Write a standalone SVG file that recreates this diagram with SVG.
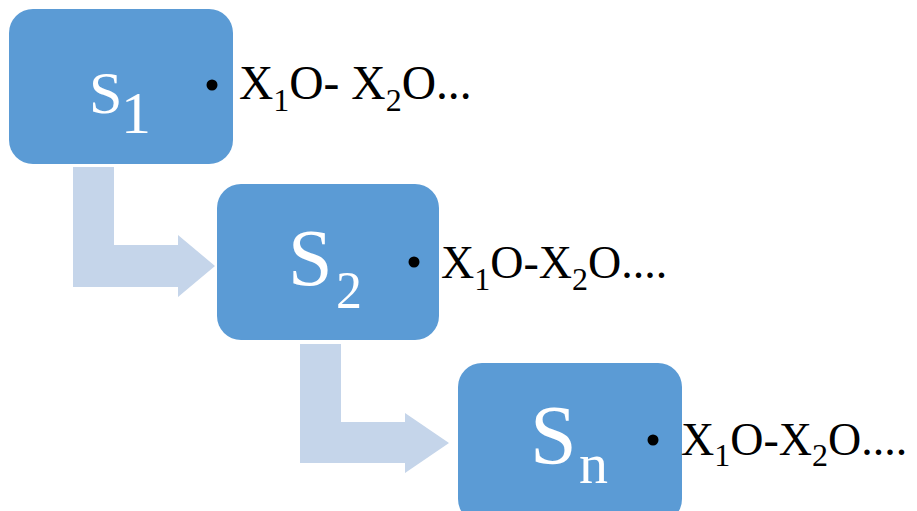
<svg xmlns="http://www.w3.org/2000/svg" width="917" height="511" viewBox="0 0 917 511">
<style>
.box{fill:#5B9BD5}
.arr{fill:#C5D5EA}
.lbl{font-family:'Liberation Serif',Tinos,'Times New Roman',Times,serif;fill:#FFFFFF}
.txt{font-family:'Liberation Serif',Tinos,'Times New Roman',Times,serif;fill:#000000}
.sub{font-size:32px}
.dot{fill:#000000}
</style>
<rect width="917" height="511" fill="#FFFFFF"/>
<g id="connectors">
<polygon class="arr" points="73,167 114,167 114,245 178,245 178,235 215,266 178,297 178,287 73,287"/>
<polygon class="arr" points="300,344 341,344 341,422 405,422 405,413 449,443 405,473 405,463 300,463"/>
</g>
<g id="node-s1">
<rect class="box" x="9" y="9" width="224" height="155" rx="24" ry="24"/>
<text class="lbl" x="89" y="113" font-size="60">S</text>
<text class="lbl" x="121" y="133" font-size="60">1</text>
<circle class="dot" cx="212" cy="85" r="5.5"/>
<text class="txt" font-size="47.5" x="239" y="99">X<tspan class="sub" dy="12">1</tspan><tspan dy="-12">O- X</tspan><tspan class="sub" dy="12">2</tspan><tspan dy="-12">O...</tspan></text>
</g>
<g id="node-s2">
<rect class="box" x="217" y="184" width="222" height="156" rx="24" ry="24"/>
<text class="lbl" x="288" y="285" font-size="80">S</text>
<text class="lbl" x="336" y="308" font-size="52">2</text>
<circle class="dot" cx="414" cy="262" r="5.5"/>
<text class="txt" font-size="46" x="441" y="278">X<tspan class="sub" dy="12">1</tspan><tspan dy="-12">O-X</tspan><tspan class="sub" dy="12">2</tspan><tspan dy="-12">O....</tspan></text>
</g>
<g id="node-sn">
<rect class="box" x="458" y="363" width="224" height="160" rx="24" ry="24"/>
<text class="lbl" x="530" y="464" font-size="84">S</text>
<text class="lbl" x="579" y="483" font-size="58">n</text>
<circle class="dot" cx="653" cy="440" r="5.5"/>
<text class="txt" font-size="46" x="681" y="455">X<tspan class="sub" dy="11">1</tspan><tspan dy="-11">O-X</tspan><tspan class="sub" dy="11">2</tspan><tspan dy="-11">O....</tspan></text>
</g>
</svg>
